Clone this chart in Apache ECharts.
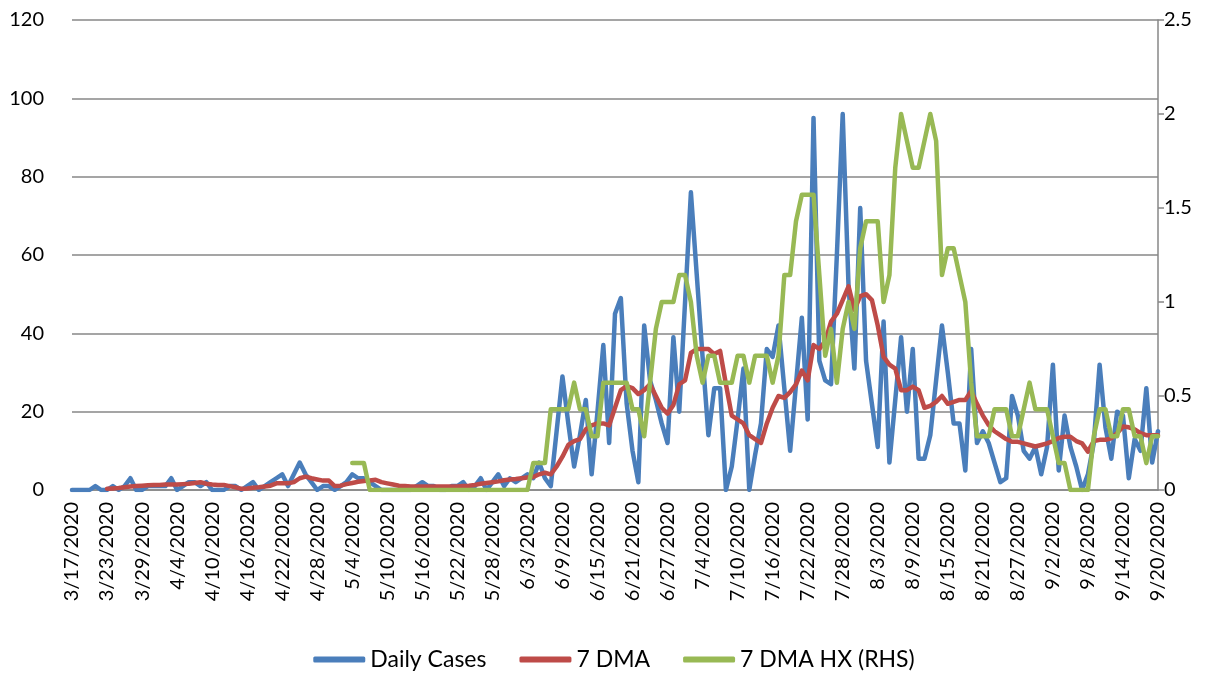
<!DOCTYPE html>
<html>
<head>
    <meta charset="utf-8">
    <title>Daily Cases / 7 DMA</title>
    <script src="https://cdn.jsdelivr.net/npm/echarts@6/dist/echarts.min.js"></script>
</head>
<body style="margin:0">
<div id="chart" style="width: 1228px; height: 681px;"></div>
<script>
    // dates 3/17/2020 .. 9/20/2020, one day (7/3) is missing in the source sheet
    var dates = [];
    var d = new Date(2020, 2, 17);
    var end = new Date(2020, 8, 20);
    while (d <= end) {
        var s = (d.getMonth() + 1) + '/' + d.getDate() + '/' + d.getFullYear();
        if (s !== '7/3/2020') dates.push(s);
        d.setDate(d.getDate() + 1);
    }

    // Daily Cases (left axis)
    var dailyCases = [
        0, 0, 0, 0, 1, 0, 0, 1, 0, 1,
        3, 0, 0, 1, 1, 1, 1, 3, 0, 1,
        2, 2, 1, 2, 0, 0, 0, 1, 1, 0,
        1, 2, 0, 1, 2, 3, 4, 1, 4, 7,
        4, 2, 0, 1, 1, 0, 1, 2, 4, 3,
        3, 2, 1, 0, 0, 0, 0, 0, 0, 1,
        2, 1, 1, 0, 0, 1, 1, 2, 0, 1,
        3, 0, 2, 4, 1, 3, 2, 3, 4, 3,
        7, 3, 1, 15, 29, 17, 6, 14, 23, 4,
        20, 37, 12, 45, 49, 22, 10, 2, 42, 28,
        23, 17, 12, 39, 20, 48, 76, 55, 34, 14,
        26, 26, 0, 6, 18, 31, 0, 9, 17, 36,
        34, 42, 26, 10, 27, 44, 18, 95, 33, 28,
        27, 60, 96, 52, 31, 72, 33, 22, 11, 43,
        7, 23, 39, 20, 36, 8, 8, 14, 28, 42,
        30, 17, 17, 5, 36, 12, 15, 12, 7, 2,
        3, 24, 19, 10, 8, 11, 4, 11, 32, 5,
        19, 11, 6, 0, 4, 12, 32, 16, 8, 20,
        19, 3, 13, 10, 26, 7, 15
    ];

    // 7 DMA (left axis), first 6 days empty
    var dma7 = [
        null, null, null, null, null, null, 0.3, 0.4, 0.5, 0.7,
        0.9, 1.0, 1.1, 1.2, 1.3, 1.3, 1.4, 1.4, 1.4, 1.5,
        1.6, 1.8, 2.0, 1.6, 1.4, 1.3, 1.3, 1.0, 0.7, 0.3,
        0.4, 0.6, 0.7, 0.9, 1.1, 1.7, 1.7, 1.7, 2.0, 3.0,
        3.4, 3.0, 2.7, 2.4, 2.4, 1.0, 1.1, 1.5, 1.8, 2.1,
        2.3, 2.4, 2.6, 2.0, 1.7, 1.4, 1.1, 1.0, 0.9, 0.9,
        0.9, 0.9, 0.9, 0.9, 0.9, 0.9, 0.9, 1.0, 1.1, 1.3,
        1.6, 1.8, 2.0, 2.2, 2.5, 2.7, 2.8, 3.0, 3.2, 3.3,
        4.0, 4.4, 4.0, 6.0, 8.5, 11.5, 12.5, 13.0, 15.5, 16.5,
        17.0, 17.0, 16.5, 21.0, 25.5, 26.5, 26.0, 24.5, 25.5, 27.0,
        24.0, 21.0, 19.5, 21.7, 27.0, 28.0, 35.0, 36.0, 36.0, 36.0,
        34.7, 35.5, 27.0, 19.0, 18.0, 17.0, 14.0, 13.0, 12.0, 17.0,
        21.0, 24.0, 23.5, 25.0, 27.0, 30.5, 28.0, 37.0, 36.0, 38.0,
        43.0, 45.0, 48.5, 52.0, 46.0, 49.5, 50.0, 48.5, 42.0, 34.0,
        32.0, 31.0, 25.5, 25.5, 26.4, 25.5, 21.0, 21.5, 22.5, 24.0,
        22.0, 22.5, 23.0, 23.0, 25.3, 22.0, 19.0, 16.6, 15.0, 14.0,
        13.0, 12.3, 12.3, 11.9, 11.5, 11.1, 11.5, 11.9, 12.5, 13.3,
        13.6, 13.6, 12.5, 11.9, 9.8, 12.5, 12.8, 12.8, 13.2, 14.5,
        16.2, 16.0, 15.5, 14.5, 14.0, 14.0, 14.0
    ];

    // 7 DMA HX (right axis), starts 5/4/2020
    var hxFrom = '5/4/2020';
    var hxValues = [
        0.143, 0.143,
        0.143, 0, 0, 0, 0, 0, 0, 0, 0, 0,
        0, 0, 0, 0, 0, 0, 0, 0, 0, 0,
        0, 0, 0, 0, 0, 0, 0, 0, 0, 0.143,
        0.143, 0.143, 0.429, 0.429, 0.429, 0.429, 0.571, 0.429, 0.429, 0.286,
        0.286, 0.571, 0.571, 0.571, 0.571, 0.571, 0.429, 0.429, 0.286, 0.571,
        0.857, 1.0, 1.0, 1.0, 1.143, 1.143, 1.0, 0.714, 0.571, 0.714,
        0.714, 0.571, 0.571, 0.571, 0.714, 0.714, 0.571, 0.714, 0.714, 0.714,
        0.571, 0.714, 1.143, 1.143, 1.429, 1.571, 1.571, 1.571, 1.143, 0.714,
        0.857, 0.571, 0.857, 1.0, 0.857, 1.286, 1.429, 1.429, 1.429, 1.0,
        1.143, 1.714, 2.0, 1.857, 1.714, 1.714, 1.857, 2.0, 1.857, 1.143,
        1.286, 1.286, 1.143, 1.0, 0.571, 0.286, 0.286, 0.286, 0.429, 0.429,
        0.429, 0.286, 0.286, 0.429, 0.571, 0.429, 0.429, 0.429, 0.286, 0.143,
        0.143, 0, 0, 0, 0, 0.286, 0.429, 0.429, 0.286, 0.286,
        0.429, 0.429, 0.286, 0.286, 0.143, 0.286, 0.286
    ];
    var hx = [];
    var startIdx = dates.indexOf(hxFrom);
    for (var i = 0; i < startIdx; i++) hx.push(null);
    hx = hx.concat(hxValues);

    var font = 'Lato, "Open Sans", sans-serif';
    var gridGray = '#878787';

    var chart = echarts.init(document.getElementById('chart'));
    var option = {
        animation: false,
        textStyle: {fontFamily: font},
        grid: {left: 72, right: 70, top: 20, bottom: 191},
        legend: {
            bottom: 5,
            left: 'center',
            icon: 'roundRect',
            itemWidth: 52,
            itemHeight: 6,
            itemGap: 33,
            textStyle: {fontSize: 23, color: '#000', fontFamily: font},
            data: ['Daily Cases', '7 DMA', '7 DMA HX (RHS)']
        },
        xAxis: {
            type: 'category',
            data: dates,
            boundaryGap: false,
            axisLine: {lineStyle: {color: gridGray, width: 1.5}},
            axisTick: {show: false},
            axisLabel: {
                interval: 5,
                rotate: 90,
                margin: 12,
                fontSize: 20,
                color: '#000',
                fontFamily: font
            }
        },
        yAxis: [
            {
                type: 'value',
                min: 0,
                max: 120,
                interval: 20,
                axisLine: {show: false},
                axisTick: {show: false},
                axisLabel: {fontSize: 20, color: '#000', margin: 28, fontFamily: font},
                splitLine: {lineStyle: {color: gridGray, width: 1.5}}
            },
            {
                type: 'value',
                min: 0,
                max: 2.5,
                interval: 0.5,
                position: 'right',
                axisLine: {show: true, lineStyle: {color: gridGray, width: 1.5}},
                axisTick: {show: true, length: 6, lineStyle: {color: gridGray, width: 1.5}},
                axisLabel: {fontSize: 20, color: '#000', margin: 6, fontFamily: font},
                splitLine: {show: false}
            }
        ],
        series: [
            {
                name: 'Daily Cases',
                type: 'line',
                data: dailyCases,
                showSymbol: false,
                symbol: 'none',
                color: '#4A7EBB',
                lineStyle: {width: 4.5, color: '#4A7EBB', join: 'round', cap: 'round'}
            },
            {
                name: '7 DMA',
                type: 'line',
                data: dma7,
                showSymbol: false,
                symbol: 'none',
                color: '#BE4B48',
                lineStyle: {width: 4.5, color: '#BE4B48', join: 'round', cap: 'round'}
            },
            {
                name: '7 DMA HX (RHS)',
                type: 'line',
                yAxisIndex: 1,
                data: hx,
                showSymbol: false,
                symbol: 'none',
                color: '#98B954',
                lineStyle: {width: 4.5, color: '#98B954', join: 'round', cap: 'round'}
            }
        ]
    };
    chart.setOption(option);
</script>
</body>
</html>
